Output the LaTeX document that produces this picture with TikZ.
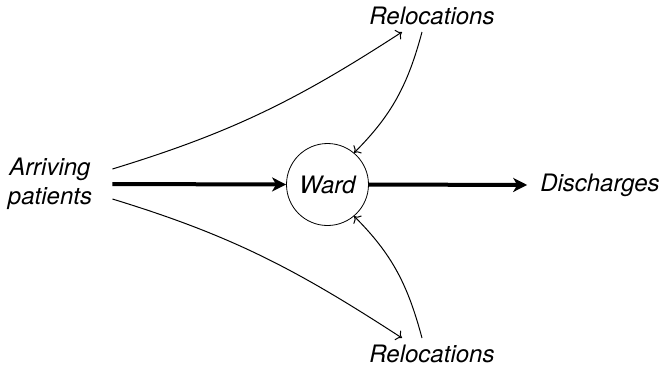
\documentclass[tikz,border=0pt]{standalone}
\usepackage{fontspec}
\setmainfont{TeX Gyre Heros}
\usetikzlibrary{arrows.meta}

\begin{document}
\begin{tikzpicture}[x=0.5pt, y=-0.5pt, font=\itshape\fontsize{12}{14.5}\selectfont,
        flow/.style={line width=2pt, -{Stealth[length=7pt, width=7pt, inset=2pt]}},
        reloc/.style={line width=0.5pt, ->}]
        \useasboundingbox (0,0) rectangle (661,372);
        \node[align=center, inner xsep=10pt] (arr) at (50,184) {Arriving\\patients};
        \node[draw, circle, minimum size=41pt, inner sep=0pt] (ward) at (327.5,184.5) {Ward};
        \node (dis) at (600,185) {Discharges};
        \node (reltop) at (432,16) {Relocations};
        \node (relbot) at (432,354) {Relocations};
        \draw[flow] (arr.east) -- (ward.west);
        \draw[flow, shorten >=3pt] (ward.east) -- (dis.west);
        \draw[reloc] ([yshift=7.5pt]arr.east) to[out=17, in=213] ([xshift=-15pt]reltop.south);
        \draw[reloc] ([xshift=-5pt]reltop.south) to[out=-105, in=45] (ward.50);
        \draw[reloc] ([yshift=-7.5pt]arr.east) to[out=-17, in=147] ([xshift=-15pt]relbot.north);
        \draw[reloc] ([xshift=-5pt]relbot.north) to[out=105, in=-45] (ward.-50);
\end{tikzpicture}
\end{document}
